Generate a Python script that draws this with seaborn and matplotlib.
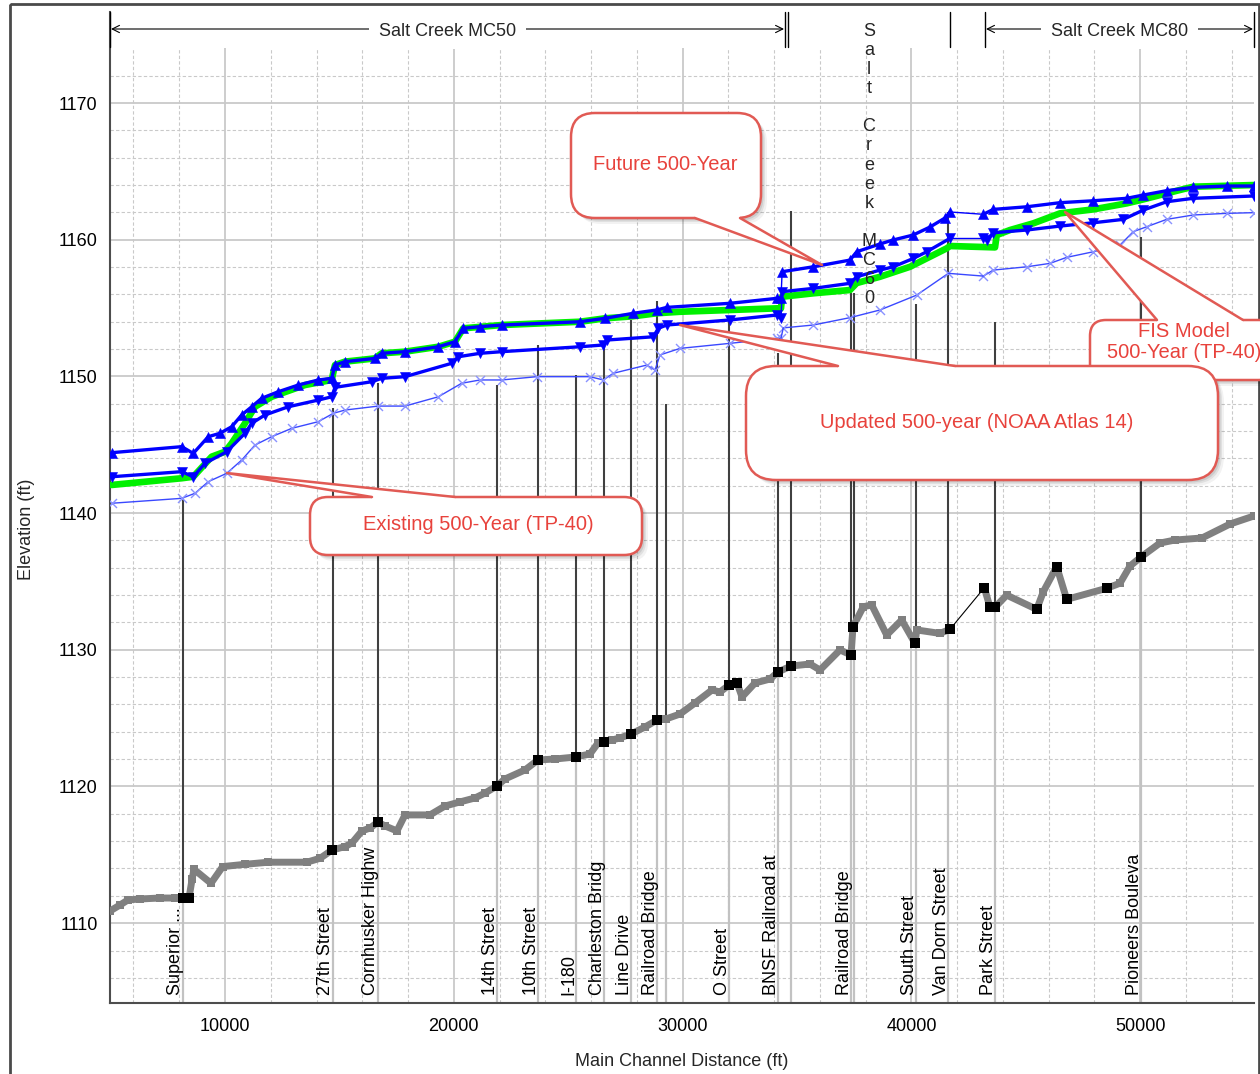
import numpy as np
import pandas as pd
import matplotlib
matplotlib.use("Agg")
import matplotlib.pyplot as plt
import seaborn as sns
from matplotlib.patches import FancyBboxPatch, Polygon, Rectangle
from matplotlib.transforms import ScaledTranslation

sns.set_style("white")
plt.rcParams["font.family"] = ["Liberation Sans", "DejaVu Sans"]

# ---------------------------------------------------------------- data
# Water-surface profiles: main channel distance (ft) / elevation (ft)
future_dist = [5048, 8107, 8614, 9270, 9781, 10293, 10730, 11167, 11604, 12330, 13204, 14078,
               14663, 14808, 15245, 16556, 16848, 17867, 19323, 20052, 20416, 21145, 22094,
               25516, 26608, 27847, 28868, 29305, 32072, 34112, 34300,
               34350, 35712, 37316, 37609, 38627, 39196, 40070, 40813, 41469, 41687,
               43142, 43580, 45040, 46495, 47951, 49410, 50135, 51158, 52321, 53781, 54973]
future_elev = [1144.42, 1144.86, 1144.37, 1145.59, 1145.84, 1146.32, 1147.18, 1147.78, 1148.40,
               1148.88, 1149.37, 1149.74, 1149.86, 1150.83, 1151.08, 1151.32, 1151.69, 1151.81,
               1152.17, 1152.54, 1153.52, 1153.64, 1153.76, 1154.00, 1154.25, 1154.62, 1154.86,
               1155.05, 1155.35, 1155.71, 1155.75,
               1157.66, 1158.02, 1158.51, 1159.12, 1159.69, 1159.98, 1160.34, 1160.93, 1161.59, 1162.03,
               1161.86, 1162.22, 1162.41, 1162.71, 1162.85, 1163.03, 1163.27, 1163.59, 1163.83,
               1163.93, 1163.93]

updated_dist = [5048, 8107, 8614, 9126, 10074, 10874, 11167, 11748, 12767, 14078, 14663, 14808,
                16411, 16848, 17867, 19908, 20197, 21145, 22094, 25516, 26535, 26683, 28720,
                28939, 29305, 32072, 34112, 34300,
                34350, 35712, 37316, 37609, 38627, 39209, 40083, 40668, 41687,
                43142, 43290, 43580, 45040, 46495, 47951, 49262, 50135, 51158, 52321, 54973]
updated_elev = [1142.66, 1143.03, 1142.66, 1143.64, 1144.49, 1145.84, 1146.57, 1147.18, 1147.78,
                1148.27, 1148.51, 1149.20, 1149.61, 1149.86, 1149.98, 1150.96, 1151.44, 1151.69,
                1151.81, 1152.17, 1152.30, 1152.66, 1152.90, 1153.52, 1153.76, 1154.13, 1154.49,
                1154.25,
                1156.20, 1156.44, 1156.81, 1157.29, 1157.78, 1158.02, 1158.63, 1159.12, 1160.10,
                1160.10, 1159.98, 1160.51, 1160.71, 1161.00, 1161.24, 1161.49, 1162.17, 1162.78,
                1163.03, 1163.20]

fis_dist = [5048, 8107, 8614, 9419, 10000, 10293, 10874, 11311, 12041, 13496, 14663, 14808,
            15245, 16556, 16848, 17867, 19323, 20052, 20416, 22094, 25516, 26608, 27847, 28868,
            29886, 34112, 34300,
            34350, 35712, 37316, 37609, 38627, 39938, 40376, 41543, 41687, 43654, 43728, 44309,
            45328, 46495, 47951, 49410, 50135, 51595, 52321, 54973]
fis_elev = [1142.06, 1142.55, 1142.66, 1144.13, 1144.49, 1145.11, 1146.57, 1147.78, 1148.51,
            1149.37, 1149.74, 1150.83, 1151.08, 1151.32, 1151.69, 1151.81, 1152.17, 1152.54,
            1153.52, 1153.76, 1154.00, 1154.25, 1154.40, 1154.62, 1154.73, 1154.98, 1154.98,
            1155.83, 1156.08, 1156.32, 1156.83, 1157.29, 1158.02, 1158.39, 1159.37, 1159.54,
            1159.44, 1160.34, 1160.71, 1161.20, 1161.93, 1162.22, 1162.66, 1162.95, 1163.58,
            1163.88, 1164.00]

existing_dist = [5048, 8107, 8689, 9270, 10074, 10730, 11311, 12041, 12915, 14078, 14733, 15245,
                 16700, 17867, 19323, 20345, 21145, 22094, 23623, 25953, 26535, 26972, 28431,
                 28794, 29012, 29886, 32072, 34112, 34300,
                 34400, 35712, 37316, 38627, 40232, 41614,
                 43142, 43580, 45040, 46057, 46787, 47951, 49117, 49698, 50284, 51158, 52321,
                 53781, 54973]
existing_elev = [1140.72, 1141.08, 1141.45, 1142.30, 1142.91, 1143.88, 1144.98, 1145.59, 1146.20,
                 1146.69, 1147.30, 1147.54, 1147.83, 1147.83, 1148.51, 1149.50, 1149.74, 1149.74,
                 1149.98, 1149.98, 1149.74, 1150.23, 1150.83, 1150.47, 1151.57, 1152.05, 1152.42,
                 1152.79, 1152.79,
                 1153.55, 1153.76, 1154.30, 1154.86, 1155.95, 1157.54,
                 1157.34, 1157.78, 1158.02, 1158.27, 1158.71, 1159.12, 1159.61, 1160.59, 1160.95,
                 1161.49, 1161.81, 1161.93, 1161.98]

# Channel invert
ground_dist = [4974, 5411, 5761, 6285, 7159, 7815, 8164, 8427, 8560, 8645, 9388, 9900, 10892,
               11900, 13576, 14160, 14677, 15245, 15551, 15988, 16338, 16687, 16993, 17517, 17867,
               18960, 19615, 20271, 20927, 21364, 21888, 22238, 23112, 23680, 24423, 25341, 25953,
               26302, 26914, 27264, 27745, 28357, 28881, 29274, 29886, 30542, 31285, 31634, 32028,
               32378, 32596, 33164, 33820, 34170, 34738, 35568, 36005, 36879, 37360, 37448, 37898,
               38265, 38920, 39576, 40157, 40232, 41250, 41687,
               43186, 43435, 43654, 44164, 45476, 45765, 46351, 46787, 48536, 49117, 49555, 50035,
               50865, 51521, 52701, 53925, 54973]
ground_elev = [1110.89, 1111.33, 1111.70, 1111.77, 1111.84, 1111.84, 1111.84, 1111.84, 1113.20,
               1113.94, 1112.92, 1114.14, 1114.31, 1114.46, 1114.46, 1114.75, 1115.35, 1115.60,
               1115.87, 1116.75, 1116.96, 1117.40, 1117.11, 1116.75, 1117.92, 1117.92, 1118.57,
               1118.87, 1119.16, 1119.52, 1120.04, 1120.55, 1121.21, 1121.94, 1122.01, 1122.16,
               1122.38, 1123.18, 1123.40, 1123.55, 1123.84, 1124.35, 1124.86, 1124.94, 1125.30,
               1126.11, 1127.06, 1126.91, 1127.42, 1127.57, 1126.55, 1127.57, 1127.86, 1128.38,
               1128.81, 1128.96, 1128.52, 1129.99, 1129.62, 1131.69, 1133.15, 1133.28, 1131.08,
               1132.18, 1130.47, 1131.45, 1131.20, 1131.50,
               1134.54, 1133.11, 1133.11, 1134.00, 1132.96, 1134.25, 1136.08, 1133.69, 1134.50,
               1134.87, 1136.13, 1136.79, 1137.81, 1138.03, 1138.18, 1139.20, 1139.79]

# Structure cross sections on the invert (black squares)
xs_dist = [8164, 8427, 14677, 16687, 21888, 23680, 25341, 26565, 27745, 28881, 32028, 32378,
           34170, 34738, 37360, 37448, 40157, 41687, 43186, 43435, 43654, 45476, 46351, 46787,
           48536, 50035]
xs_elev = [1111.84, 1111.84, 1115.35, 1117.40, 1120.04, 1121.94, 1122.16, 1123.25, 1123.84,
           1124.86, 1127.42, 1127.57, 1128.38, 1128.81, 1129.62, 1131.69, 1130.47, 1131.50,
           1134.54, 1133.11, 1133.11, 1132.96, 1136.08, 1133.69, 1134.50, 1136.79]

# Bridges / culverts: station, top elevation, label
bridge_dist = [8164, 14720, 16687, 21888, 23680, 25341, 26565, 27745, 28881, 29274, 32028,
               34170, 34738, 37360, 37491, 40201, 41600, 43654, 50035]
bridge_top = [1141.2, 1147.7, 1149.5, 1149.4, 1152.3, 1150.1, 1152.3, 1154.1, 1155.5, 1148.0,
              1154.4, 1151.7, 1162.1, 1156.1, 1156.1, 1155.3, 1162.0, 1154.0, 1160.2]
bridge_name = ["Superior ...", "27th Street", "Cornhusker Highw", "14th Street", "10th Street",
               "I-180", "Charleston Bridg", "Line Drive", "Railroad Bridge", "", "O Street",
               "BNSF Railroad at", "", "Railroad Bridge", "", "South Street", "Van Dorn Street",
               "Park Street", "Pioneers Bouleva"]

# Reaches
reach_names = ["Salt Creek MC50", "Salt Creek MC60", "Salt Creek MC80"]
reach_start = [4974, 34607, 43217]
reach_end = [34476, 41687, 54973]
junctions = [34330, 42500]

x_ticks = [10000, 20000, 30000, 40000, 50000]
x_tick_labels = ["10000", "20000", "30000", "40000", "50000"]
y_ticks = [1110, 1120, 1130, 1140, 1150, 1160, 1170]
y_tick_labels = ["1110", "1120", "1130", "1140", "1150", "1160", "1170"]

# ---------------------------------------------------------------- helpers
def reach_of(d):
    if d < junctions[0]:
        return "MC50"
    if d < junctions[1]:
        return "MC60"
    return "MC80"


def profile_frame(dist, elev):
    df = pd.DataFrame({"distance": dist, "elevation": elev})
    df["reach"] = [reach_of(d) for d in dist]
    return df


XMIN, XMAX = 4974, 54973
YMIN, YMAX = 1104.16, 1176.66
GRID_TOP = 1174

fig = plt.figure(figsize=(12.6, 10.74), dpi=100)
fig.patch.set_facecolor("white")
ax = fig.add_axes([110 / 1260, 71 / 1074, 1144 / 1260, 991 / 1074])
ax.set_facecolor("white")

# ---------------------------------------------------------------- grid
grid_c = "#c9c9c9"
for y in range(1106, 1173, 2):
    major = y % 10 == 0
    ax.hlines(y, XMIN, XMAX, colors=grid_c, lw=1.3 if major else 0.8,
              linestyles="solid" if major else (0, (3, 2)), zorder=0.5)
for x in range(6000, 55000, 2000):
    major = x % 10000 == 0
    ax.vlines(x, YMIN, GRID_TOP, colors=grid_c, lw=1.3 if major else 0.8,
              linestyles="solid" if major else (0, (3, 2)), zorder=0.5)

# ---------------------------------------------------------------- bridges
ground_at_bridge = np.interp(bridge_dist, ground_dist, ground_elev)
label_shift = ScaledTranslation(-7 / 100, 0, fig.dpi_scale_trans)
for d, top, g, name in zip(bridge_dist, bridge_top, ground_at_bridge, bridge_name):
    ax.vlines(d, YMIN, top, colors="#c2c2c2", lw=1.6, zorder=1)
    ax.vlines(d, g, top, colors="#262626", lw=1.2, zorder=1.5)
    if name:
        ax.text(d, 1104.75, name, rotation=90, ha="center", va="bottom", fontsize=13,
                color="black", transform=ax.transData + label_shift, zorder=2)

# ---------------------------------------------------------------- ground
ground = pd.DataFrame({"distance": ground_dist, "elevation": ground_elev})
ground["segment"] = np.where(ground["distance"] < junctions[1], "upper", "lower")
sns.lineplot(data=ground, x="distance", y="elevation", units="segment", estimator=None,
             sort=False, color="#808080", lw=5, ax=ax, zorder=3, legend=False)
sns.scatterplot(data=ground, x="distance", y="elevation", marker="s", s=34, color="#808080",
                linewidth=0, ax=ax, zorder=3.1, legend=False)
up = ground[ground["segment"] == "upper"].iloc[-1]
lo = ground[ground["segment"] == "lower"].iloc[0]
ax.plot([up["distance"], lo["distance"]], [up["elevation"], lo["elevation"]],
        color="black", lw=0.8, zorder=3)
sns.scatterplot(x=xs_dist, y=xs_elev, marker="s", s=48, color="black", linewidth=0,
                ax=ax, zorder=3.2, legend=False)

# ---------------------------------------------------------------- water surfaces
fis = pd.DataFrame({"distance": fis_dist, "elevation": fis_elev})
sns.lineplot(data=fis, x="distance", y="elevation", estimator=None, sort=False,
             color="#00f000", lw=4.8, ax=ax, zorder=3.3, legend=False)

styles = [
    (existing_dist, existing_elev, "#3a48ff", 1.0, "x", "#8a92ff", 42, 3.4),
    (updated_dist, updated_elev, "#0000ff", 2.4, "v", "#0000ff", 52, 3.6),
    (future_dist, future_elev, "#0000ff", 2.4, "^", "#0000ff", 52, 3.7),
]
for dist, elev, lc, lw, mk, mc, ms, z in styles:
    df = profile_frame(dist, elev)
    sns.lineplot(data=df, x="distance", y="elevation", units="reach", estimator=None,
                 sort=False, color=lc, lw=lw, ax=ax, zorder=z, legend=False)
    if mk == "x":
        sns.scatterplot(data=df, x="distance", y="elevation", marker=mk, s=ms, color=mc,
                        linewidth=1.0, ax=ax, zorder=z, legend=False)
    else:
        sns.scatterplot(data=df, x="distance", y="elevation", marker=mk, s=ms, color=mc,
                        edgecolor=mc, linewidth=0.4, ax=ax, zorder=z, legend=False)
    order = ["MC50", "MC60", "MC80"]
    for a, b in zip(order[:-1], order[1:]):
        end = df[df["reach"] == a].iloc[-1]
        start = df[df["reach"] == b].iloc[0]
        ax.plot([end["distance"], start["distance"]], [end["elevation"], start["elevation"]],
                color=lc, lw=1.0, zorder=z)

# ---------------------------------------------------------------- axes
ax.set_xlim(XMIN, XMAX)
ax.set_ylim(YMIN, YMAX)
ax.set_xticks(x_ticks)
ax.set_xticklabels(x_tick_labels)
ax.set_xticks(range(6000, 55000, 2000), minor=True)
ax.set_yticks(y_ticks)
ax.set_yticklabels(y_tick_labels)
ax.set_yticks(range(1106, 1175, 2), minor=True)
ax.tick_params(axis="y", which="both", direction="out", length=7, width=1, color="#4d4d4d",
               pad=2, labelsize=13, labelcolor="black")
ax.tick_params(axis="x", which="both", direction="out", length=5, width=1, color="#4d4d4d",
               pad=6, labelsize=13, labelcolor="black")
for side in ("top", "right"):
    ax.spines[side].set_visible(False)
for side in ("left", "bottom"):
    ax.spines[side].set_color("#4d4d4d")
    ax.spines[side].set_linewidth(1.5)
ax.set_xlabel("Main Channel Distance (ft)", fontsize=13)
ax.set_ylabel("Elevation (ft)", fontsize=13)
ax.xaxis.set_label_coords(0.5, -0.0505)
ax.yaxis.set_label_coords(-0.0655, 0.478)

# ---------------------------------------------------------------- overlay (pixel space)
ov = fig.add_axes([0, 0, 1, 1], zorder=10)
ov.set_xlim(0, 1260)
ov.set_ylim(1074, 0)
ov.axis("off")
ov.patch.set_alpha(0)


def px(x, y):
    return ov.transData.inverted().transform(ax.transData.transform((x, y)))


ov.add_patch(Rectangle((10, 4), 1249, 1100, fill=False, ec="#4a4a4a", lw=2, clip_on=False))

# reach header
for name, s, e in zip(reach_names, reach_start, reach_end):
    xs = px(s, YMAX)[0]
    xe = px(e, YMAX)[0]
    for xb in (xs, xe):
        ov.plot([xb, xb], [12, 47], color="black", lw=1.0)
    xm = (xs + xe) / 2
    if xe - xs > 200:
        ov.annotate("", xy=(xs + 1, 29), xytext=(xe - 1, 29),
                    arrowprops=dict(arrowstyle="<->", color="black", lw=0.8,
                                    shrinkA=0, shrinkB=0, mutation_scale=13))
        ov.text(xm, 31, name, ha="center", va="center", fontsize=13, zorder=4,
                bbox=dict(boxstyle="square,pad=0.55", fc="white", ec="none"))
    else:
        ov.text(xm, 23, "\n".join(name), ha="center", va="top", fontsize=13,
                linespacing=1.16, zorder=4)

# callouts
RED_EDGE = "#e15a54"
RED_TEXT = "#e8423c"


def callout(box, radius, base, edge, tip, text, text_xy):
    x0, y0, x1, y1 = box
    w, h = x1 - x0, y1 - y0
    style = f"round,pad=0,rounding_size={radius}"
    for off, a in [(6, 0.05), (4, 0.07), (2.5, 0.09)]:
        ov.add_patch(FancyBboxPatch((x0 + off, y0 + off), w, h, boxstyle=style,
                                    fc="black", ec="none", alpha=a, zorder=2, clip_on=False))
    ov.add_patch(FancyBboxPatch((x0, y0), w, h, boxstyle=style, fc="white", ec=RED_EDGE,
                                lw=1.8, zorder=3, clip_on=False))
    tx, ty = px(*tip)
    (bx0, by), (bx1, _) = base
    inward = 4 if edge == "top" else -4
    ov.add_patch(Polygon([(bx0, by + inward), (bx0, by), (tx, ty), (bx1, by), (bx1, by + inward)],
                         closed=True, fc="white", ec="none", zorder=4))
    ov.plot([bx0, tx, bx1], [by, ty, by], color=RED_EDGE, lw=1.8, zorder=5)
    ov.text(text_xy[0], text_xy[1], text, ha="center", va="center", fontsize=14.5,
            color=RED_TEXT, zorder=6, linespacing=1.15)


callout((571, 113, 761, 218), 24, [(695, 218), (740, 218)], "bottom",
        (36093, 1158.15), "Future 500-Year", (665, 165))
callout((1090, 320, 1275, 380), 16, [(1157, 320), (1243, 320)], "top",
        (46713, 1162.03), "FIS Model\n500-Year (TP-40)", (1184, 342))
callout((746, 366, 1218, 480), 30, [(838, 366), (955, 366)], "top",
        (29886, 1153.76), "Updated 500-year (NOAA Atlas 14)", (977, 423))
callout((310, 497, 642, 555), 18, [(372, 497), (455, 497)], "top",
        (10087, 1142.93), "Existing 500-Year (TP-40)", (478, 524))

fig.savefig("out.png", dpi=100, facecolor="white")
